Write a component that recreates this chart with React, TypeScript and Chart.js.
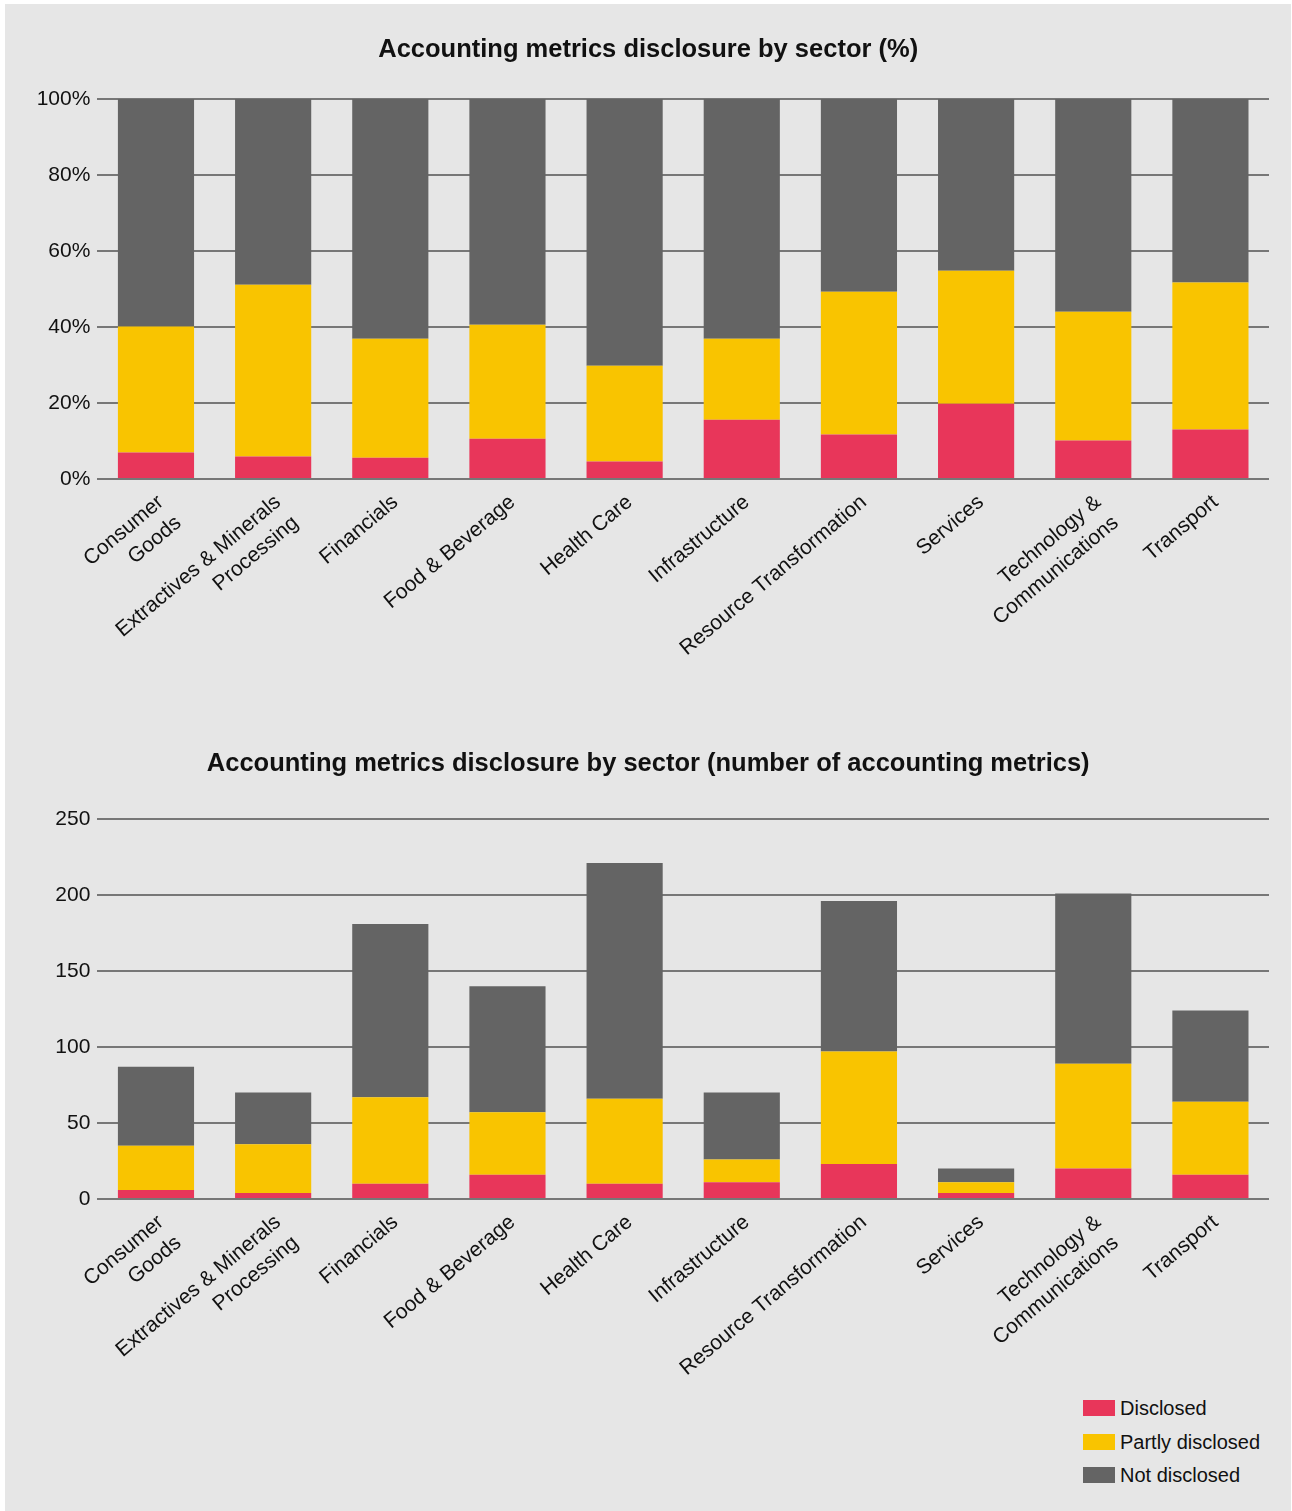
import React, { useEffect, useRef } from "react";
import { Chart, registerables } from "chart.js";

Chart.register(...registerables);

const categories: (string | string[])[] = [
  ["Consumer", "Goods"],
  ["Extractives & Minerals", "Processing"],
  "Financials",
  "Food & Beverage",
  "Health Care",
  "Infrastructure",
  "Resource Transformation",
  "Services",
  ["Technology &", "Communications"],
  "Transport",
];

const seriesNames = ["Disclosed", "Partly disclosed", "Not disclosed"];
const seriesColors = ["#e8365a", "#f9c400", "#646464"];

// Chart 1: share of accounting metrics (%)
const pctDisclosed = [7.0, 5.9, 5.6, 10.6, 4.6, 15.6, 11.7, 19.8, 10.1, 13.0];
const pctPartly = [33.1, 45.2, 31.3, 30.0, 25.2, 21.3, 37.6, 35.0, 33.9, 38.7];
const pctNot = [59.9, 48.9, 63.1, 59.4, 70.2, 63.1, 50.7, 45.2, 56.0, 48.3];

// Chart 2: number of accounting metrics
const cntDisclosed = [6, 4, 10, 16, 10, 11, 23, 4, 20, 16];
const cntPartly = [29, 32, 57, 41, 56, 15, 74, 7, 69, 48];
const cntNot = [52, 34, 114, 83, 155, 44, 99, 9, 112, 60];

const pctTicks = [0, 20, 40, 60, 80, 100];
const cntTicks = [0, 50, 100, 150, 200, 250];

const FONT = "'Liberation Sans', Arial, Helvetica, sans-serif";
const TEXT = "#111111";
const GRID = "#777777";
const BG = "#e6e6e6";

const CW = 1264;

function buildConfig(
  title: string,
  data: number[][],
  ticks: number[],
  suffix: string,
  titleTop: number,
  titleBottom: number,
  xHeight: number
): any {
  return {
    type: "bar",
    data: {
      labels: categories,
      datasets: seriesNames.map((name, i) => ({
        label: name,
        data: data[i],
        backgroundColor: seriesColors[i],
        borderWidth: 0,
        barPercentage: 0.65,
        categoryPercentage: 1,
      })),
    },
    options: {
      responsive: false,
      animation: false,
      devicePixelRatio: 1,
      layout: { padding: { left: 22.4, right: 0, top: 0, bottom: 0 } },
      plugins: {
        legend: { display: false },
        tooltip: { enabled: false },
        title: {
          display: true,
          text: title,
          color: TEXT,
          font: { family: FONT, size: 25.5, weight: "bold", lineHeight: 1.2 },
          padding: { top: titleTop, bottom: titleBottom },
        },
      },
      scales: {
        x: {
          stacked: true,
          grid: { display: false },
          border: { display: false },
          ticks: {
            autoSkip: false,
            maxRotation: 40,
            minRotation: 40,
            color: TEXT,
            padding: 2,
            labelOffset: 5,
            font: { family: FONT, size: 21, lineHeight: 1.3 },
          },
          afterFit: (s: any) => {
            s.height = xHeight;
          },
        },
        y: {
          stacked: true,
          min: ticks[0],
          max: ticks[ticks.length - 1],
          afterBuildTicks: (s: any) => {
            s.ticks = ticks.map((v) => ({ value: v }));
          },
          grid: { color: GRID, lineWidth: 2, drawTicks: false },
          border: { display: false },
          ticks: {
            color: TEXT,
            padding: 7,
            font: { family: FONT, size: 21 },
            callback: (v: any) => `${v}${suffix}`,
          },
          afterFit: (s: any) => {
            s.width = 70;
          },
        },
      },
    },
  };
}

function ChartCanvas({ config, height }: { config: any; height: number }) {
  const ref = useRef<HTMLCanvasElement | null>(null);
  useEffect(() => {
    if (!ref.current) return;
    const chart = new Chart(ref.current, config);
    return () => chart.destroy();
  }, [config]);
  return (
    <canvas
      ref={ref}
      width={CW}
      height={height}
      style={{ display: "block", width: CW, height }}
    />
  );
}

const topConfig = buildConfig(
  "Accounting metrics disclosure by sector (%)",
  [pctDisclosed, pctPartly, pctNot],
  pctTicks,
  "%",
  31,
  33.4,
  221
);

const bottomConfig = buildConfig(
  "Accounting metrics disclosure by sector (number of accounting metrics)",
  [cntDisclosed, cntPartly, cntNot],
  cntTicks,
  "",
  49,
  39.4,
  187
);

export default function App() {
  return (
    <div
      style={{
        position: "absolute",
        left: 5,
        top: 4,
        width: 1286,
        height: 1507,
        background: BG,
        overflow: "hidden",
        fontFamily: FONT,
      }}
    >
      <div style={{ position: "absolute", left: 0, top: 0 }}>
        <ChartCanvas config={topConfig} height={696} />
      </div>
      <div style={{ position: "absolute", left: 0, top: 696 }}>
        <ChartCanvas config={bottomConfig} height={686} />
      </div>
      <div style={{ position: "absolute", left: 1078, top: 1387 }}>
        {seriesNames.map((name, i) => (
          <div
            key={name}
            style={{
              display: "flex",
              alignItems: "center",
              height: 33.7,
            }}
          >
            <span
              style={{
                display: "inline-block",
                width: 32,
                height: 16,
                background: seriesColors[i],
                marginRight: 5,
              }}
            />
            <span style={{ fontSize: 20, color: TEXT, lineHeight: "20px" }}>{name}</span>
          </div>
        ))}
      </div>
    </div>
  );
}
